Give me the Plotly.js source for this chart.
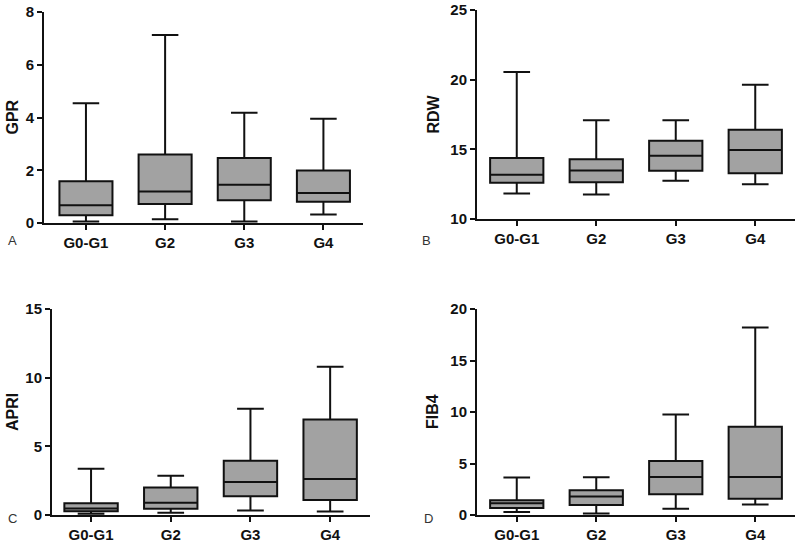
<!DOCTYPE html>
<html>
<head>
<meta charset="utf-8">
<script src="https://cdn.plot.ly/plotly-3.0.1.min.js"></script>
<style>
  html, body { margin: 0; padding: 0; background: #ffffff; }
  #chart { width: 800px; height: 543px; }
</style>
</head>
<body>
<div id="chart"></div>
<script>
// ---- Data ----
const groups = ["G0-G1", "G2", "G3", "G4"];

// Panel A: GPR
const gprMin    = [0.06, 0.14, 0.06, 0.32];
const gprQ1     = [0.29, 0.72, 0.86, 0.81];
const gprMedian = [0.67, 1.19, 1.45, 1.14];
const gprQ3     = [1.58, 2.60, 2.46, 1.99];
const gprMax    = [4.54, 7.13, 4.18, 3.95];

// Panel B: RDW
const rdwMin    = [11.83, 11.76, 12.75, 12.49];
const rdwQ1     = [12.61, 12.63, 13.46, 13.29];
const rdwMedian = [13.17, 13.48, 14.54, 14.96];
const rdwQ3     = [14.37, 14.28, 15.62, 16.40];
const rdwMax    = [20.55, 17.08, 17.08, 19.64];

// Panel C: APRI
const apriMin    = [0.10, 0.17, 0.33, 0.26];
const apriQ1     = [0.28, 0.45, 1.37, 1.09];
const apriMedian = [0.48, 0.90, 2.41, 2.63];
const apriQ3     = [0.85, 2.01, 3.95, 6.96];
const apriMax    = [3.36, 2.86, 7.74, 10.79];

// Panel D: FIB4
const fib4Min    = [0.28, 0.15, 0.60, 1.01];
const fib4Q1     = [0.69, 0.98, 2.02, 1.58];
const fib4Median = [1.14, 1.80, 3.69, 3.69];
const fib4Q3     = [1.42, 2.40, 5.24, 8.58];
const fib4Max    = [3.63, 3.66, 9.75, 18.20];

// Axis labels and ticks
const yTitles = ["GPR", "RDW", "APRI", "FIB4"];
const panelLetters = ["A", "B", "C", "D"];
const yRanges = [[0, 8], [10, 25], [0, 15], [0, 20]];
const yTickVals = [
  [0, 2, 4, 6, 8],
  [10, 15, 20, 25],
  [0, 5, 10, 15],
  [0, 5, 10, 15, 20]
];

// ---- Styling ----
const W = 800, H = 543;
const fontFam = "Arial, 'Liberation Sans', sans-serif";
const boxFill = "#a2a2a2";
const ink = "#111111";

function boxTrace(xa, ya, lo, q1, med, q3, hi) {
  return {
    type: "box",
    x: groups,
    q1: q1, median: med, q3: q3,
    lowerfence: lo, upperfence: hi,
    boxpoints: false,
    width: 0.67,
    whiskerwidth: 0.5,
    fillcolor: boxFill,
    line: { color: ink, width: 2 },
    xaxis: xa, yaxis: ya,
    showlegend: false,
    hoverinfo: "skip"
  };
}

const data = [
  boxTrace("x",  "y",  gprMin,  gprQ1,  gprMedian,  gprQ3,  gprMax),
  boxTrace("x2", "y2", rdwMin,  rdwQ1,  rdwMedian,  rdwQ3,  rdwMax),
  boxTrace("x3", "y3", apriMin, apriQ1, apriMedian, apriQ3, apriMax),
  boxTrace("x4", "y4", fib4Min, fib4Q1, fib4Median, fib4Q3, fib4Max)
];

// pixel geometry of each panel: [left, right, top, bottom], x-range
const panels = [
  { l: 44,  r: 363, t: 12,  b: 223, xr: [-0.53, 3.5], titleX: 12 },
  { l: 477, r: 795, t: 10,  b: 219, xr: [-0.5, 3.5],  titleX: 433 },
  { l: 52,  r: 370, t: 309, b: 515, xr: [-0.49, 3.5], titleX: 12 },
  { l: 477, r: 795, t: 309, b: 515, xr: [-0.5, 3.5],  titleX: 432 }
];
const letterPos = [[12, 240], [427, 240], [12, 518], [428, 518]];

const tickFont = { family: fontFam, size: 15, color: ink, weight: "bold" };

const layout = {
  width: W, height: H,
  margin: { l: 0, r: 0, t: 0, b: 0 },
  paper_bgcolor: "#ffffff",
  plot_bgcolor: "rgba(0,0,0,0)",
  showlegend: false,
  annotations: []
};

panels.forEach((p, i) => {
  const sx = i === 0 ? "" : String(i + 1);
  layout["xaxis" + sx] = {
    domain: [p.l / W, p.r / W],
    anchor: "y" + sx,
    range: p.xr,
    type: "category",
    showline: true, linecolor: ink, linewidth: 2,
    ticks: "outside", ticklen: 5, tickwidth: 2, tickcolor: ink,
    showgrid: false, zeroline: false,
    tickfont: tickFont,
    ticklabeloverflow: "allow",
    fixedrange: true
  };
  layout["yaxis" + sx] = {
    domain: [1 - p.b / H, 1 - p.t / H],
    anchor: "x" + sx,
    range: yRanges[i],
    tickmode: "array",
    tickvals: yTickVals[i],
    ticktext: yTickVals[i].map(String),
    showline: true, linecolor: ink, linewidth: 2,
    ticks: "outside", ticklen: 5, tickwidth: 2, tickcolor: ink,
    showgrid: false, zeroline: false,
    tickfont: tickFont,
    ticklabeloverflow: "allow",
    fixedrange: true
  };
  // y-axis title
  layout.annotations.push({
    text: yTitles[i],
    xref: "paper", yref: "paper",
    x: p.titleX / W, y: 1 - ((p.t + p.b) / 2) / H,
    xanchor: "center", yanchor: "middle",
    textangle: -90,
    showarrow: false,
    font: { family: fontFam, size: 16, color: ink, weight: "bold" }
  });
  // panel letter
  layout.annotations.push({
    text: panelLetters[i],
    xref: "paper", yref: "paper",
    x: letterPos[i][0] / W, y: 1 - letterPos[i][1] / H,
    xanchor: "center", yanchor: "middle",
    showarrow: false,
    font: { family: fontFam, size: 13, color: "#333333" }
  });
});

Plotly.newPlot("chart", data, layout, { displayModeBar: false, staticPlot: true });
</script>
</body>
</html>
